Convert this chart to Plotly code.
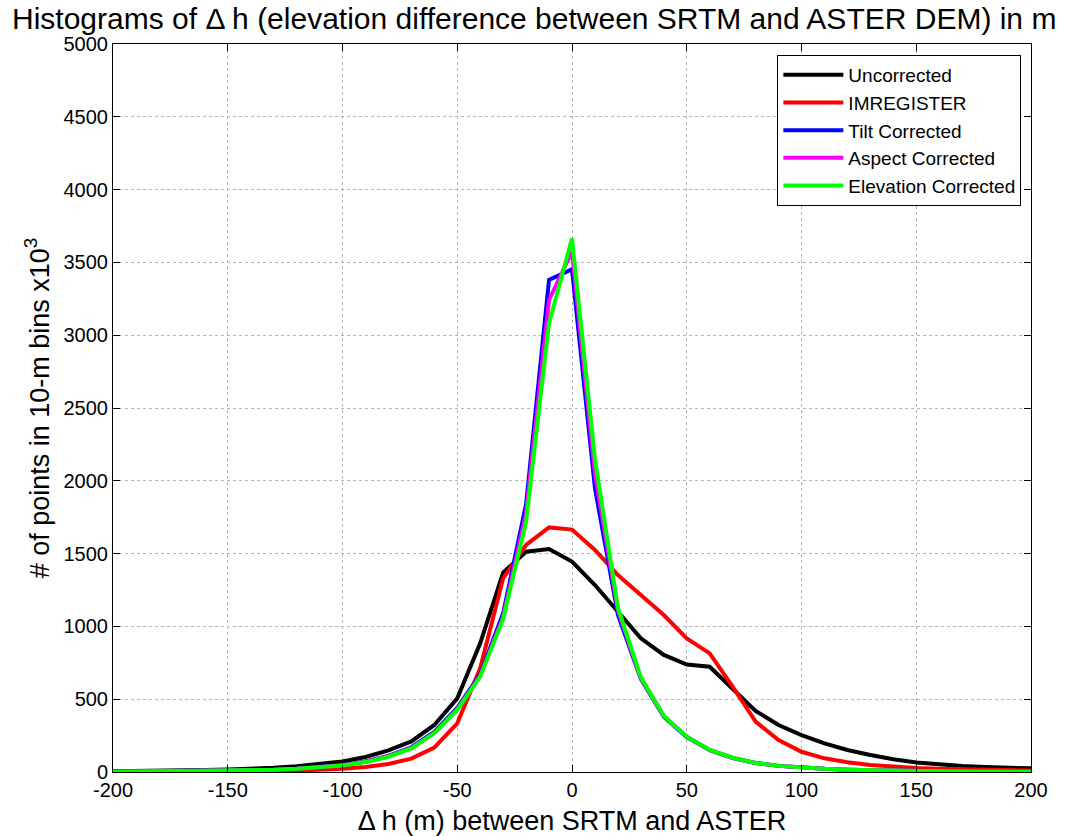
import plotly.graph_objects as go

dh = list(range(-200, 201, 10))

uncorrected = [5, 6, 8, 10, 13, 17, 22, 29, 40, 53, 72, 103, 148, 210, 323, 506, 884, 1370,
               1513, 1532, 1445, 1284, 1101, 918, 804, 738, 723, 575, 420, 323, 254, 197,
               151, 117, 88, 66, 52, 42, 35, 30, 25]
imregister = [1, 1, 2, 2, 3, 4, 5, 7, 9, 14, 22, 35, 55, 92, 168, 334, 712, 1330,
              1559, 1680, 1665, 1525, 1353, 1216, 1078, 918, 815, 586, 346, 220, 139, 94,
              67, 48, 36, 28, 22, 18, 15, 12, 10]
tilt = [2, 3, 4, 5, 7, 9, 12, 16, 22, 32, 48, 72, 110, 170, 275, 440, 670, 1090,
        1840, 3380, 3453, 1950, 1080, 640, 380, 240, 150, 95, 62, 42, 30, 22,
        16, 12, 9, 7, 5, 4, 3, 3, 2]
aspect = [2, 3, 4, 5, 7, 9, 12, 16, 22, 31, 46, 70, 108, 165, 268, 432, 660, 1065,
          1780, 3242, 3574, 2050, 1110, 645, 385, 243, 152, 97, 62, 42, 30, 22,
          16, 12, 9, 7, 5, 4, 3, 3, 2]
elevation = [2, 3, 4, 5, 7, 9, 12, 16, 22, 31, 45, 68, 105, 162, 266, 426, 655, 1050,
             1720, 3082, 3665, 2150, 1130, 650, 385, 243, 152, 98, 62, 42, 30, 22,
             16, 12, 9, 7, 5, 4, 3, 3, 2]

series = [
    ("Uncorrected", uncorrected, "#000000"),
    ("IMREGISTER", imregister, "#ff0000"),
    ("Tilt Corrected", tilt, "#0000ff"),
    ("Aspect Corrected", aspect, "#ff00ff"),
    ("Elevation Corrected", elevation, "#00ff00"),
]

x_ticks = list(range(-200, 201, 50))
y_ticks = list(range(0, 5001, 500))

fig = go.Figure()
for name, vals, color in series:
    fig.add_trace(go.Scatter(x=dh, y=vals, mode="lines", name=name,
                             line=dict(color=color, width=4)))

axis_common = dict(
    showgrid=True, gridcolor="#b4b4b4", griddash="dot", gridwidth=1,
    showline=True, linecolor="#000000", linewidth=1, mirror="ticks",
    ticks="inside", ticklen=7, tickcolor="#000000", zeroline=False,
    tickfont=dict(family="Liberation Sans, Arial, sans-serif", size=20, color="#000000"),
)

fig.update_layout(
    width=1073, height=836,
    margin=dict(l=113, r=42, t=44, b=64),
    paper_bgcolor="white", plot_bgcolor="white",
    font=dict(family="Liberation Sans, Arial, sans-serif", color="#000000"),
    title=dict(text="Histograms of \u0394 h (elevation difference between SRTM and ASTER DEM) in m",
               x=12/1073, xanchor="left", xref="container", y=0.991, yanchor="top", yref="container",
               font=dict(size=30, color="#000000")),
    xaxis=dict(range=[-200, 200], tickvals=x_ticks, ticktext=[str(v) for v in x_ticks],
               automargin=False,
               title=dict(text="\u0394 h (m) between SRTM and ASTER", font=dict(size=27), standoff=13),
               **axis_common),
    yaxis=dict(range=[0, 5000], tickvals=y_ticks, ticktext=[str(v) for v in y_ticks],
               automargin=False,
               title=dict(text="# of points in 10-m bins x10<sup>3</sup>", font=dict(size=27), standoff=6),
               **axis_common),
    legend=dict(x=0.9895, y=0.985, xanchor="right", yanchor="top",
                bgcolor="white", bordercolor="#000000", borderwidth=1,
                font=dict(size=19, color="#000000"), tracegroupgap=0, itemwidth=60),
    showlegend=True,
)

fig.write_html("out.html")
